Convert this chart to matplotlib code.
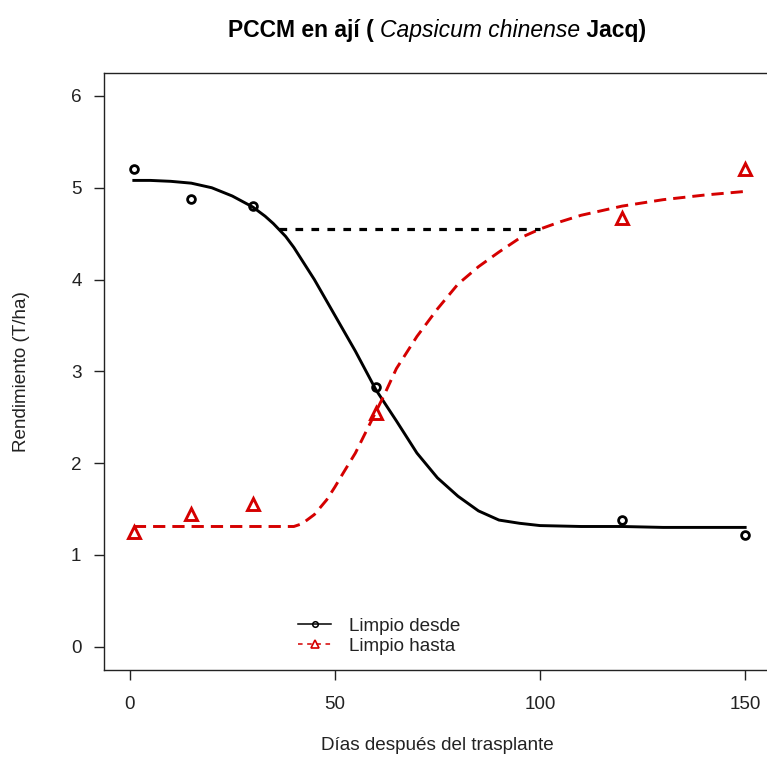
import matplotlib.pyplot as plt
from matplotlib.lines import Line2D
from matplotlib.offsetbox import TextArea, HPacker, AnchoredOffsetbox

plt.rcParams['font.family'] = ['Liberation Sans', 'DejaVu Sans']

# observed points
dias = [1, 15, 30, 60, 120, 150]
limpio_desde = [5.20, 4.88, 4.80, 2.83, 1.38, 1.22]
limpio_hasta = [1.25, 1.45, 1.55, 2.55, 4.67, 5.20]

# fitted curves
desde_x = [1, 5, 10, 15, 20, 25, 30, 33, 35, 38, 40, 45, 50, 55, 60, 65, 70,
           75, 80, 85, 90, 95, 100, 110, 120, 130, 140, 150]
desde_y = [5.08, 5.08, 5.07, 5.05, 5.00, 4.91, 4.79, 4.69, 4.61, 4.47, 4.35,
           4.00, 3.61, 3.22, 2.80, 2.46, 2.11, 1.84, 1.64, 1.48, 1.38, 1.345,
           1.32, 1.31, 1.31, 1.30, 1.30, 1.30]
hasta_x = [1, 10, 20, 30, 40, 42, 45, 48, 50, 52, 55, 58, 60, 62, 65, 67,
           70, 75, 80, 85, 90, 95, 100, 105, 110, 120, 130, 140, 150]
hasta_y = [1.31, 1.31, 1.31, 1.31, 1.31, 1.34, 1.44, 1.60, 1.74, 1.89, 2.11,
           2.38, 2.56, 2.74, 3.03, 3.17, 3.38, 3.68, 3.95, 4.14, 4.30, 4.45,
           4.55, 4.63, 4.70, 4.80, 4.87, 4.92, 4.96]

# critical period line
pccm_x = [36.5, 100]
pccm_y = [4.55, 4.55]

xticks = [0, 50, 100, 150]
yticks = [0, 1, 2, 3, 4, 5, 6]

red = '#D50000'
ink = '#222222'
fs = 13.6

W, H = 767, 757
fig = plt.figure(figsize=(W / 100, H / 100), dpi=100)
ax = fig.add_axes([104 / W, 1 - 669.7 / H, (771 - 104) / W, (669.7 - 73) / H])

ax.plot(desde_x, desde_y, color='black', lw=2.1, solid_joinstyle='round')
ax.plot(hasta_x, hasta_y, color=red, lw=2.1, linestyle=(0, (4.2, 2.4)))
ax.plot(pccm_x, pccm_y, color='black', lw=2.3, linestyle=(0, (2.4, 2.6)))
ax.plot(dias, limpio_desde, linestyle='none', marker='o', ms=5.6, mfc='none',
        mec='black', mew=2)
ax.plot(dias, limpio_hasta, linestyle='none', marker='^', ms=8.5, mfc='none',
        mec=red, mew=2.1)

ax.set_xlim(-6.27, 156.3)
ax.set_ylim(-0.25, 6.25)
ax.set_xticks(xticks)
ax.set_yticks(yticks)
ax.tick_params(length=7.2, width=1, color=ink, labelsize=fs,
               labelcolor=ink)
ax.tick_params(axis='x', pad=12)
ax.tick_params(axis='y', pad=9)
for s in ax.spines.values():
    s.set_color(ink)
    s.set_linewidth(1)

fig.text(437 / W, 1 - 746 / H, 'Días después del trasplante', ha='center',
         va='center', fontsize=fs, color=ink)
fig.text(22 / W, 1 - 372 / H, 'Rendimiento (T/ha)', ha='center',
         va='center', rotation=90, fontsize=fs, color=ink)

# title with italic species name
bold = dict(fontsize=16.5, fontweight='bold', color='black')
ital = dict(fontsize=16.5, fontstyle='italic', color='black')
title = HPacker(children=[TextArea('PCCM en ají ( ', textprops=bold),
                          TextArea('Capsicum chinense', textprops=ital),
                          TextArea(' Jacq)', textprops=bold)],
                align='baseline', pad=0, sep=0)
anchored = AnchoredOffsetbox(loc='center', child=title, pad=0, borderpad=0,
                             frameon=False, bbox_to_anchor=(437 / W, 1 - 31 / H),
                             bbox_transform=fig.transFigure)
fig.add_artist(anchored)

handles = [
    Line2D([], [], color='black', lw=1.1, marker='o', ms=4, mfc='none', mew=1.1),
    Line2D([], [], color=red, lw=1.1, linestyle=(0, (3, 3)), marker='^', ms=6,
           mfc='none', mew=1.2),
]
ax.legend(handles, ['Limpio desde', 'Limpio hasta'], frameon=False,
          fontsize=fs, loc='center left', bbox_to_anchor=(298 / W, 1 - 636 / H),
          bbox_transform=fig.transFigure, borderpad=0, borderaxespad=0,
          handlelength=1.77, handletextpad=0.92, labelspacing=0.15,
          labelcolor=ink)

fig.savefig('out.png', dpi=100)
